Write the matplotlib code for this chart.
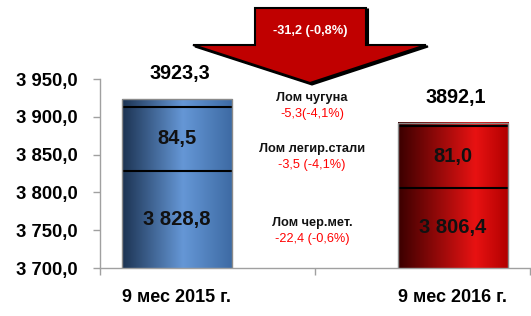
import matplotlib
matplotlib.use('Agg')
import matplotlib.pyplot as plt
import numpy as np
from matplotlib.colors import LinearSegmentedColormap
from matplotlib.patches import Polygon
from matplotlib.ticker import FuncFormatter

plt.rcParams['font.family'] = ['Liberation Sans', 'DejaVu Sans']

# ---- data ----
categories = ['9 мес 2015 г.', '9 мес 2016 г.']
lom_chermet = [3828.8, 3806.4]
lom_legir = [84.5, 81.0]
lom_chugun = [10.0, 4.7]
totals = [3923.3, 3892.1]
base_labels = ['3 828,8', '3 806,4']
legir_labels = ['84,5', '81,0']
total_labels = ['3923,3', '3892,1']
change_total = '-31,2 (-0,8%)'
change_names = ['Лом чугуна', 'Лом легир.стали', 'Лом чер.мет.']
change_values = ['-5,3(-4,1%)', '-3,5 (-4,1%)', '-22,4 (-0,6%)']
change_y = [3925, 3857, 3760]
y_ticks = [3700, 3750, 3800, 3850, 3900, 3950]

W, H = 531, 316
fig = plt.figure(figsize=(W / 100, H / 100), dpi=100)
ax = fig.add_axes([100 / W, 1 - 268 / H, 431 / W, 189 / H])

xpos = np.arange(len(categories), dtype=float)
bw = 0.40
ylo, yhi = 3700, 3950
xlo, xhi = -0.279, 1.283

cmaps = [
    LinearSegmentedColormap.from_list('b', [(0, '#1c3352'), (0.55, '#6597d6'), (1, '#3d6aa3')]),
    LinearSegmentedColormap.from_list('r', [(0, '#3a0000'), (0.7, '#e81212'), (1, '#b00000')]),
]
grad = np.linspace(0, 1, 256).reshape(1, -1)

for i, x in enumerate(xpos):
    segs = [lom_chermet[i], lom_legir[i], lom_chugun[i]]
    bottoms = np.concatenate([[0], np.cumsum(segs)[:-1]])
    ax.bar([x] * 3, segs, bottom=bottoms, width=bw, color='none',
           edgecolor='none', zorder=3)
    top = bottoms[-1] + segs[-1]
    ax.imshow(grad, extent=(x - bw / 2, x + bw / 2, 0, top), aspect='auto',
              cmap=cmaps[i], zorder=2, interpolation='bicubic')
    for b in bottoms[1:]:
        ax.plot([x - bw / 2, x + bw / 2], [b, b], color='black', lw=1.5, zorder=4,
                solid_capstyle='butt')
    ax.bar([x], [top], width=bw, color='none', edgecolor='#8a8a8a', lw=1.0, zorder=5)
    ax.text(x, (ylo + lom_chermet[i]) / 2, base_labels[i], ha='center', va='center',
            fontsize=14.5, fontweight='bold', color='#111111', zorder=6)
    ax.text(x, lom_chermet[i] + lom_legir[i] / 2, legir_labels[i], ha='center', va='center',
            fontsize=14.5, fontweight='bold', color='#111111', zorder=6)
    ax.annotate(total_labels[i], (x + 0.01, totals[i]), xytext=(0, 18.5),
                textcoords='offset points', ha='center', va='center',
                fontsize=14.2, fontweight='bold', annotation_clip=False)

ax.set_xlim(xlo, xhi)
ax.set_ylim(ylo, yhi)

for s in ['top', 'right']:
    ax.spines[s].set_visible(False)
for s in ['left', 'bottom']:
    ax.spines[s].set_color('#a0a0a0')
    ax.spines[s].set_linewidth(1.0)

ax.set_yticks(y_ticks)
ax.yaxis.set_major_formatter(FuncFormatter(
    lambda v, p: f'{v:,.1f}'.replace(',', ' ').replace('.', ',')))
ax.tick_params(axis='y', length=5, width=1, color='#a0a0a0', pad=11,
               labelsize=13.3)
for t in ax.get_yticklabels():
    t.set_fontweight('bold')

ax.set_xticks(xpos)
ax.set_xticklabels(categories, fontsize=13, fontweight='bold')
ax.tick_params(axis='x', which='major', length=0, pad=15)
ax.set_xticks([xlo, 0.5, xhi - 0.004], minor=True)
ax.tick_params(axis='x', which='minor', length=5, width=1, color='#a0a0a0')

# change annotations
for name, val, yv in zip(change_names, change_values, change_y):
    ax.text(0.49, yv, name, ha='center', va='center', fontsize=9.2, fontweight='bold',
            color='#111111', zorder=6)
    ax.text(0.49, yv - 21, val, ha='center', va='center', fontsize=9.2,
            color='#ff0000', zorder=6)

# big arrow
pts = [(255, 8), (366, 8), (366, 45), (426, 45), (310, 83), (193, 45), (255, 45)]
shadow = [((px + 2) / W, 1 - (py + 1.5) / H) for px, py in pts]
fig.patches.append(Polygon(shadow, closed=True, transform=fig.transFigure,
                           facecolor='black', edgecolor='black', lw=1.5, zorder=10))
fig.patches.append(Polygon([(px / W, 1 - py / H) for px, py in pts], closed=True,
                           transform=fig.transFigure, facecolor='#c00000',
                           edgecolor='black', lw=1.5, zorder=11))
fig.text(310 / W, 1 - 31 / H, change_total, ha='center', va='center', color='white',
         fontsize=9.2, fontweight='bold', zorder=12)

fig.savefig('out.png', dpi=100)
